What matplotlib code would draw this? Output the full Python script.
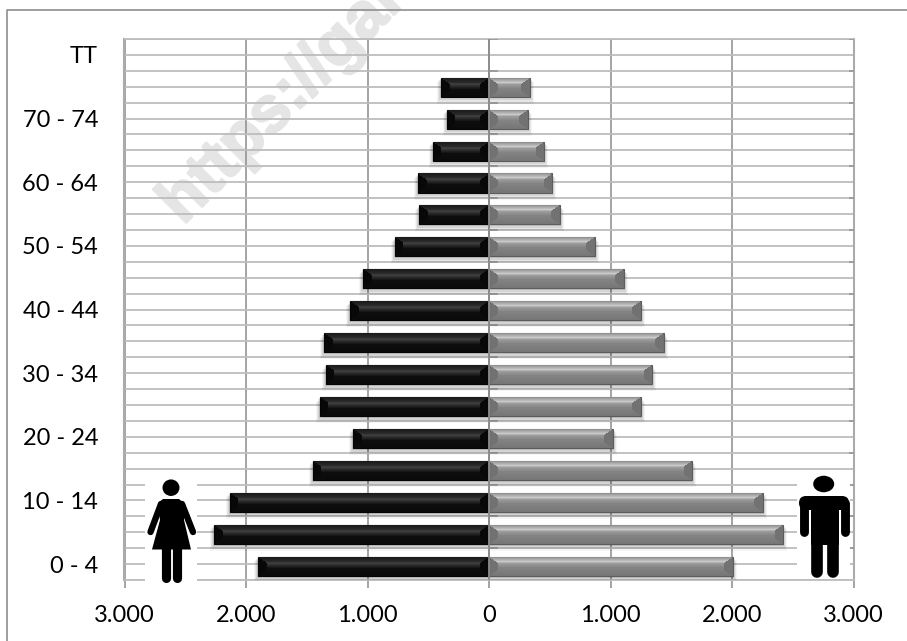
import matplotlib
matplotlib.use("Agg")
import matplotlib.pyplot as plt
import matplotlib.patheffects as pe
from matplotlib.lines import Line2D
from matplotlib.patches import Ellipse, Rectangle, Polygon, FancyBboxPatch
from matplotlib.transforms import Affine2D
from matplotlib.ticker import FixedLocator

plt.rcParams['font.family'] = ['Lato', 'DejaVu Sans']

W, H = 907, 641
age_labels = ['0 - 4', '', '10 - 14', '', '20 - 24', '', '30 - 34', '', '40 - 44', '',
              '50 - 54', '', '60 - 64', '', '70 - 74', '', 'TT']
women = [1901, 2263, 2132, 1449, 1119, 1391, 1342, 1358, 1144, 1037, 774, 576, 584, 461, 346, 395]
men = [2008, 2420, 2255, 1671, 1020, 1251, 1342, 1440, 1251, 1111, 872, 584, 519, 453, 321, 337]
x_ticks = [-3000, -2000, -1000, 0, 1000, 2000, 3000]
x_tick_labels = ['3.000', '2.000', '1.000', '0', '1.000', '2.000', '3.000']

fig = plt.figure(figsize=(W / 100, H / 100), dpi=100, facecolor='white')
px = Affine2D().scale(1 / W, -1 / H).translate(0, 1) + fig.transFigure

# watermark and outer frame
fig.text(183, 226, 'https://gar', transform=px, rotation=45, rotation_mode='anchor',
         ha='left', va='baseline', fontsize=47, fontweight='bold',
         family='Liberation Sans', color='#e5e5e5', zorder=0,
         path_effects=[pe.withStroke(linewidth=1.5, foreground='#e5e5e5')])
fig.add_artist(Line2D([7, 7, 907], [641, 9.5, 9.5], transform=px, color='#8e8e8e', lw=1.2, zorder=0.5))

L, R, T, B = 124.5, 853.5, 39, 580
pos = [L / W, 1 - B / H, (R - L) / W, (B - T) / H]

# grid axes
ax = fig.add_axes(pos, zorder=1, facecolor='none')
ax.set_xlim(-3000, 3000)
ax.set_ylim(-0.5, 16.5)
ax.set_xticks(x_ticks)
ax.set_xticklabels(x_tick_labels, fontsize=17, color='black')
ax.set_yticks(range(len(age_labels)))
ax.set_yticklabels(age_labels, fontsize=17, color='black')
ax.yaxis.remove_overlapping_locs = False
ax.yaxis.set_minor_locator(FixedLocator([i * 0.5 - 0.5 for i in range(35)]))
ax.tick_params(axis='y', which='both', length=0, pad=19)
ax.tick_params(axis='x', length=5.8, width=1.1, color='#8c8c8c', pad=12)
ax.grid(True, axis='y', which='minor', color='#bdbdbd', lw=1.3, zorder=1)
ax.grid(True, axis='x', which='major', color='#8c8c8c', lw=1.1, zorder=2)
ax.set_axisbelow(True)
for side in ('left', 'right'):
    ax.spines[side].set_color('#ababab')
    ax.spines[side].set_linewidth(1.5)
for side in ('top', 'bottom'):
    ax.spines[side].set_color('#bdbdbd')
    ax.spines[side].set_linewidth(1.3)

# bar axes
ROW0, STEP = 566.4, 31.95
ax2 = fig.add_axes(pos, zorder=3, facecolor='none')
ax2.set_xlim(-3000, 3000)
ax2.set_ylim((ROW0 - B) / STEP, (ROW0 - T) / STEP)
ax2.axis('off')

BAR_H = 19 / STEP
BEVEL = 70.0
N = 19


def lerp(c1, c2, f):
    a = int(c1[1:3], 16)
    b = int(c2[1:3], 16)
    return '#' + ('%02x' % int(a + (b - a) * f)) * 3


def profile(stops, t):
    for (t0, c0), (t1, c1) in zip(stops, stops[1:]):
        if t0 <= t <= t1:
            return lerp(c0, c1, (t - t0) / (t1 - t0) if t1 > t0 else 0)
    return stops[-1][1]


black_stops = [(0, '#1a1a1a'), (0.27, '#2c2c2c'), (0.3, '#444444'), (0.6, '#0e0e0e'), (1, '#0a0a0a')]
gray_stops = [(0, '#8c8c8c'), (0.27, '#d2d2d2'), (0.3, '#a2a2a2'), (0.55, '#848484'), (1, '#767676')]


def bevel_bar(y, v, base, edge, stops):
    sign = 1 if v > 0 else -1
    for k, a in ((1, .10), (2, .08), (3, .06), (4, .04)):
        ax2.barh(y - k * 0.045, v + sign * k * 8, height=BAR_H + k * 0.02, color='black',
                 alpha=a, lw=0, zorder=2)
    ax2.barh(y, v, height=BAR_H, color=base, edgecolor=edge, lw=0.8, zorder=3)
    for r in range(N):
        t = (r + 0.5) / N
        inset = BEVEL * min(t, 1 - t, 0.3) / 0.3
        yy = y + BAR_H / 2 - t * BAR_H
        ax2.barh(yy, abs(v) - 2 * inset, left=min(0, v) + inset, height=BAR_H / N + 0.002,
                 color=profile(stops, t), lw=0, zorder=4)


for i, (w, m) in enumerate(zip(women, men)):
    bevel_bar(i, -w, '#080808', '#050505', black_stops)
    bevel_bar(i, m, '#727272', '#5c5c5c', gray_stops)

ax2.axvline(0, color='#8c8c8c', lw=1.3, zorder=6)
for i in range(17):
    ax.plot([0, 65], [i + 0.5, i + 0.5], color='#9a9a9a', lw=1.3, zorder=3)
    ax.plot([2970, 3000], [i + 0.5, i + 0.5], color='#9a9a9a', lw=1.3, zorder=3)

# icons
t = px
def add(p):
    p.set_transform(t)
    p.set_clip_on(False)
    ax2.add_artist(p)
    return p

# woman
add(Rectangle((145, 478), 52, 104, fc='white', ec='none', zorder=5))
add(Ellipse((171, 487.7), 17, 16.5, fc='black', ec='none', zorder=7))
add(Polygon([(163, 499), (179, 499), (184, 503), (184, 520), (191, 549.5), (152, 549.5), (160, 520), (158, 503)],
            closed=True, fc='black', ec='none', zorder=7))
for xs, ys in (([161, 150.5], [504, 532]), ([182, 193], [504, 532])):
    add(Line2D(xs, ys, color='black', lw=4.6, solid_capstyle='round', zorder=7))
for xs, ys in (([165.5, 165.5], [545, 577.5]), ([176.5, 176.5], [545, 577.5])):
    add(Line2D(xs, ys, color='black', lw=6.6, solid_capstyle='round', zorder=7))

# man
add(Rectangle((797, 475), 53, 104, fc='white', ec='none', zorder=5))
add(Ellipse((823.7, 484), 21, 16.5, fc='black', ec='none', zorder=7))
add(FancyBboxPatch((799, 496), 50, 14, boxstyle='round,pad=0,rounding_size=7', fc='black', ec='none', zorder=7))
add(Rectangle((811, 500), 27.5, 45, fc='black', ec='none', zorder=7))
for x in (803.5, 844.5):
    add(Line2D([x, x], [503, 532], color='black', lw=6.4, solid_capstyle='round', zorder=7))
for x in (817, 832.5):
    add(Line2D([x, x], [530, 572], color='black', lw=8.4, solid_capstyle='round', zorder=7))

fig.savefig('out.png', dpi=100)
